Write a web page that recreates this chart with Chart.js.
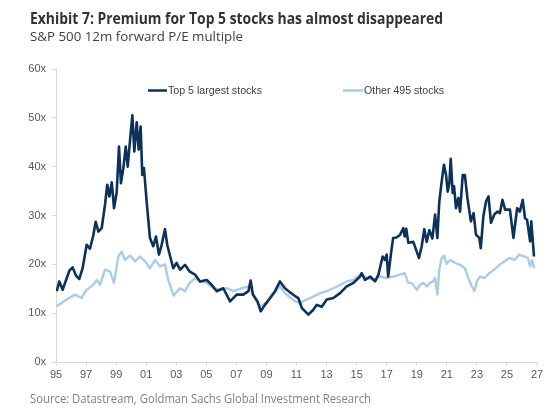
<!DOCTYPE html>
<html>
<head>
<meta charset="utf-8">
<script src="https://cdn.jsdelivr.net/npm/chart.js@4.4.1/dist/chart.umd.min.js"></script>
<style>
html,body{margin:0;padding:0;background:#ffffff;}
#wrap{position:relative;width:560px;height:418px;overflow:hidden;background:#fff;}
canvas{display:block;}
</style>
</head>
<body>
<div id="wrap"><canvas id="c" width="560" height="418"></canvas></div>
<script>
// ---- Data ----
const titleText = 'Exhibit 7: Premium for Top 5 stocks has almost disappeared';
const subtitleText = 'S&P 500 12m forward P/E multiple';
const sourceText = 'Source: Datastream, Goldman Sachs Global Investment Research';
const seriesNames = ['Top 5 largest stocks', 'Other 495 stocks'];
const yTickValues = [0, 10, 20, 30, 40, 50, 60];
const xTickYears = [1995,1997,1999,2001,2003,2005,2007,2009,2011,2013,2015,2017,2019,2021,2023,2025,2027];

const top5Dates = [1995.05,1995.22,1995.44,1995.67,1995.89,1996.1,1996.33,1996.55,1996.77,1997.04,1997.26,1997.48,1997.64,1997.82,1998.04,1998.26,1998.41,1998.55,1998.71,1998.86,1999.04,1999.19,1999.32,1999.48,1999.64,1999.77,1999.92,2000.08,2000.21,2000.37,2000.5,2000.63,2000.74,2000.85,2001.03,2001.25,2001.47,2001.65,2001.85,2002.03,2002.25,2002.4,2002.58,2002.8,2003.02,2003.25,2003.58,2003.9,2004.25,2004.58,2005.03,2005.36,2005.69,2006.13,2006.58,2007.02,2007.46,2007.8,2007.95,2008.1,2008.4,2008.62,2008.9,2009.24,2009.57,2009.9,2010.23,2010.56,2010.9,2011.12,2011.35,2011.79,2012.12,2012.34,2012.68,2013.01,2013.45,2013.9,2014.34,2014.79,2015.23,2015.34,2015.56,2015.9,2016.23,2016.45,2016.73,2016.88,2017.0,2017.1,2017.32,2017.43,2017.65,2017.88,2018.1,2018.2,2018.3,2018.44,2018.77,2019.15,2019.33,2019.5,2019.66,2019.84,2020.04,2020.22,2020.37,2020.5,2020.66,2020.81,2020.95,2021.06,2021.17,2021.26,2021.39,2021.48,2021.61,2021.77,2021.88,2022.06,2022.2,2022.37,2022.6,2022.78,2022.94,2023.16,2023.26,2023.43,2023.61,2023.77,2023.94,2024.16,2024.38,2024.53,2024.7,2024.88,2025.2,2025.43,2025.68,2025.86,2026.05,2026.2,2026.34,2026.54,2026.62,2026.8];
const top5Values = [14.5,16.5,14.8,16.8,18.7,19.4,17.7,17.0,19.2,24.0,23.2,25.9,28.7,26.7,27.4,32.2,36.3,33.9,36.8,31.5,34.8,44.1,36.6,39.7,44.1,40.0,45.2,50.5,43.1,49.1,43.5,48.2,38.3,39.7,32.9,25.4,23.7,25.7,22.0,24.0,27.2,24.0,21.8,19.2,20.3,18.9,19.9,18.5,17.9,16.5,16.8,15.8,14.5,15.1,12.4,13.8,13.8,14.5,16.7,13.8,12.4,10.4,11.7,13.1,14.5,16.5,15.1,14.3,13.5,13.1,11.1,9.7,10.7,11.7,11.3,12.8,13.1,14.1,15.5,16.2,17.5,18.2,16.8,17.5,16.5,17.9,21.6,20.9,22.0,17.5,23.0,25.4,25.5,26.0,27.4,25.7,27.3,24.4,24.6,21.3,23.7,27.2,24.6,27.0,25.3,30.2,25.4,32.9,37.0,40.4,38.3,34.9,36.6,41.6,34.6,36.0,31.5,33.6,30.8,38.3,38.3,33.6,28.8,30.5,26.1,25.4,23.3,29.8,32.9,33.9,28.5,30.2,30.8,30.5,33.2,31.2,31.2,25.4,31.5,30.8,33.2,29.5,29.1,24.7,28.8,21.6];

const otherDates = [1995.05,1995.7,1996.26,1996.7,1997.04,1997.48,1997.7,1997.93,1998.26,1998.6,1998.86,1999.15,1999.37,1999.59,1999.92,2000.26,2000.59,2000.93,2001.25,2001.6,2001.92,2002.25,2002.45,2002.62,2002.82,2003.25,2003.58,2003.9,2004.25,2004.58,2005.03,2005.47,2005.9,2006.36,2006.8,2007.35,2007.8,2008.24,2008.58,2009.02,2009.46,2009.9,2010.23,2010.56,2010.9,2011.24,2011.68,2012.12,2012.57,2013.0,2013.45,2013.9,2014.34,2014.79,2015.23,2015.68,2016.12,2016.57,2017.0,2017.43,2017.88,2018.2,2018.43,2018.66,2019.0,2019.22,2019.44,2019.66,2019.88,2020.1,2020.22,2020.37,2020.5,2020.66,2020.81,2021.0,2021.22,2021.55,2021.88,2022.2,2022.43,2022.66,2022.83,2023.0,2023.2,2023.5,2023.83,2024.16,2024.5,2024.83,2025.16,2025.5,2025.83,2026.16,2026.39,2026.54,2026.67,2026.8];
const otherValues = [11.4,12.8,13.8,13.1,14.8,15.8,16.8,15.8,18.9,18.5,16.2,21.6,22.6,20.9,21.8,20.6,21.6,20.6,19.2,20.9,19.6,20.0,17.0,15.5,13.6,15.1,14.5,16.2,17.2,16.5,16.2,15.1,14.8,15.1,14.5,15.1,15.5,13.4,11.4,12.1,13.8,15.5,14.1,13.3,12.4,12.1,12.8,13.4,14.1,14.5,15.1,15.8,16.5,16.8,17.9,17.2,16.8,17.5,17.2,17.5,17.9,18.2,16.2,16.2,14.8,15.8,16.2,15.5,16.2,16.5,17.2,13.8,18.9,21.3,21.8,20.1,20.9,20.3,19.9,19.2,17.2,15.5,14.5,16.5,17.5,17.2,18.2,18.9,19.9,20.6,21.3,20.9,22.0,21.6,21.3,19.6,20.9,19.2];

const darkColor = '#0d3159';
const lightColor = '#a9cde9';
const axisColor = '#d9d9d9';
const tickColor = '#595959';

function toPoints(dates, values){ return dates.map((d,i)=>({x:d, y:values[i]})); }

// Draw fitted text (scaled horizontally to a target width)
function fitText(ctx, text, x, y, font, color, targetW, baseline){
  ctx.save();
  ctx.font = font;
  ctx.fillStyle = color;
  ctx.textBaseline = baseline || 'alphabetic';
  ctx.textAlign = 'left';
  const w = ctx.measureText(text).width;
  const s = targetW ? targetW / w : 1;
  ctx.translate(x, y);
  ctx.scale(s, 1);
  ctx.fillText(text, 0, 0);
  ctx.restore();
}

const textPlugin = {
  id: 'texts',
  afterDraw(chart){
    const ctx = chart.ctx;
    fitText(ctx, titleText, 30, 23.5, 'bold 16px "Open Sans"', '#333333', 413);
    fitText(ctx, subtitleText, 30, 40.5, '13.5px "Open Sans"', '#404040', 213);
    fitText(ctx, sourceText, 30, 403, '12.5px "Open Sans"', '#808080', 341);
    // legend
    const items = [
      {name: seriesNames[0], color: darkColor, x0: 148, x1: 167, tw: 94},
      {name: seriesNames[1], color: lightColor, x0: 343, x1: 363, tw: 80}
    ];
    const ly = 90.5;
    items.forEach(it => {
      ctx.save();
      ctx.strokeStyle = it.color;
      ctx.lineWidth = 2.5;
      ctx.beginPath();
      ctx.moveTo(it.x0, ly);
      ctx.lineTo(it.x1, ly);
      ctx.stroke();
      ctx.restore();
      fitText(ctx, it.name, it.x1 + 1, ly, '11px "Liberation Sans"', '#404040', it.tw, 'middle');
    });
  }
};

const ctx = document.getElementById('c').getContext('2d');
new Chart(ctx, {
  type: 'line',
  data: {
    datasets: [
      {label: seriesNames[0], data: toPoints(top5Dates, top5Values), borderColor: darkColor, borderWidth: 2.6, pointRadius: 0, tension: 0, fill: false, borderJoinStyle: 'round'},
      {label: seriesNames[1], data: toPoints(otherDates, otherValues), borderColor: lightColor, borderWidth: 2.4, pointRadius: 0, tension: 0, fill: false, borderJoinStyle: 'round'}
    ]
  },
  options: {
    responsive: false,
    animation: false,
    layout: {padding: {top: 69, right: 23, bottom: 26, left: 0}},
    plugins: {legend: {display: false}, tooltip: {enabled: false}, title: {display: false}},
    scales: {
      x: {
        type: 'linear',
        min: xTickYears[0],
        max: xTickYears[xTickYears.length - 1],
        afterFit: s => { s.height = 30; },
        afterBuildTicks: s => { s.ticks = xTickYears.map(v => ({value: v})); },
        ticks: {
          autoSkip: false, maxRotation: 0, padding: 2,
          color: tickColor, font: {family: 'Liberation Sans', size: 11},
          callback: v => String(v % 100).padStart(2, '0')
        },
        grid: {display: true, drawOnChartArea: false, drawTicks: true, tickLength: 4, color: axisColor},
        border: {display: true, color: axisColor, width: 1}
      },
      y: {
        min: yTickValues[0],
        max: yTickValues[yTickValues.length - 1],
        afterFit: s => { s.width = 56; },
        afterBuildTicks: s => { s.ticks = yTickValues.map(v => ({value: v})); },
        ticks: {
          padding: 6, color: tickColor, font: {family: 'Liberation Sans', size: 11},
          callback: v => v + 'x'
        },
        grid: {display: true, drawOnChartArea: false, drawTicks: true, tickLength: 4, color: axisColor},
        border: {display: true, color: axisColor, width: 1}
      }
    }
  },
  plugins: [textPlugin]
});
</script>
</body>
</html>
